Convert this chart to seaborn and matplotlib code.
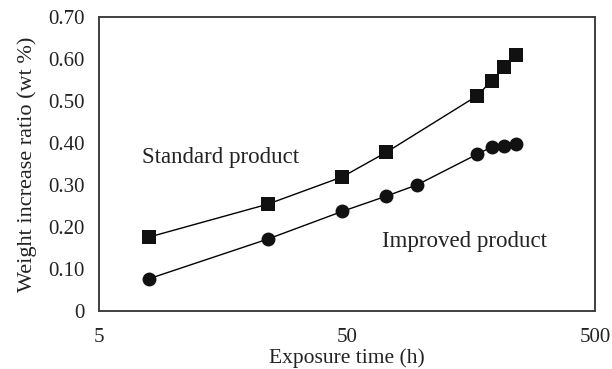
import numpy as np
import pandas as pd
import seaborn as sns
import matplotlib.pyplot as plt
from matplotlib.ticker import LogLocator, FixedLocator, NullFormatter

# ---------------- DATA ------------------
std_hours = [8, 24, 48, 72, 168, 192, 216, 240]
std_ratio = [0.176, 0.254, 0.319, 0.377, 0.512, 0.548, 0.580, 0.609]
imp_hours = [8, 24, 48, 72, 96, 168, 192, 216, 240]
imp_ratio = [0.077, 0.171, 0.237, 0.273, 0.300, 0.373, 0.390, 0.392, 0.398]
y_ticks = [0, 0.1, 0.2, 0.3, 0.4, 0.5, 0.6, 0.7]
y_tick_labels = ["0", "0.10", "0.20", "0.30", "0.40", "0.50", "0.60", "0.70"]
x_ticks = [5, 50, 500]

std_df = pd.DataFrame({"hours": std_hours, "ratio": std_ratio})
imp_df = pd.DataFrame({"hours": imp_hours, "ratio": imp_ratio})

# ---------------- STYLE ------------------
sns.set_style("white")
plt.rcParams["font.family"] = ["Liberation Serif", "DejaVu Serif"]
GRAY = "#404040"
TXT = "#222222"

fig = plt.figure(figsize=(6.12, 3.69), dpi=100)
ax = fig.add_axes([0.161, 0.157, 0.811, 0.798])

sns.lineplot(data=std_df, x="hours", y="ratio", ax=ax, color="black", linewidth=1.0,
             marker="s", markersize=9.5, markeredgewidth=0, markerfacecolor="#111111")
sns.lineplot(data=imp_df, x="hours", y="ratio", ax=ax, color="black", linewidth=1.0,
             marker="o", markersize=10, markeredgewidth=0, markerfacecolor="#111111")

ax.set_xscale("log")
ax.set_xlim(5, 500)
ax.set_ylim(0, 0.70)

ax.xaxis.set_major_locator(FixedLocator(x_ticks))
ax.set_xticklabels([str(t) for t in x_ticks])
ax.xaxis.set_minor_locator(LogLocator(base=10, subs=np.arange(1, 10)))
ax.xaxis.set_minor_formatter(NullFormatter())
ax.set_yticks(y_ticks)
ax.set_yticklabels(y_tick_labels)

ax.tick_params(axis="x", which="major", direction="in", length=4.5, width=1, color=GRAY,
               labelsize=15, pad=12, labelcolor=TXT)
ax.tick_params(axis="x", which="minor", direction="in", length=3, width=1, color=GRAY)
ax.tick_params(axis="y", which="major", direction="in", length=3.5, width=1, color=GRAY,
               labelsize=15, pad=10, labelcolor=TXT)

for side in ["left", "right", "top", "bottom"]:
    ax.spines[side].set_color(GRAY)
    ax.spines[side].set_linewidth(1.4)

ax.set_xlabel("Exposure time (h)", fontsize=15.5, color=TXT, labelpad=1)
ax.set_ylabel("Weight increase ratio (wt %)", fontsize=16, color=TXT, labelpad=8)

ax.text(7.46, 0.366, "Standard product", fontsize=16.5, color=TXT, va="center")
ax.text(69.6, 0.166, "Improved product", fontsize=16.5, color=TXT, va="center")

fig.savefig("out.png", dpi=100)
plt.close(fig)
